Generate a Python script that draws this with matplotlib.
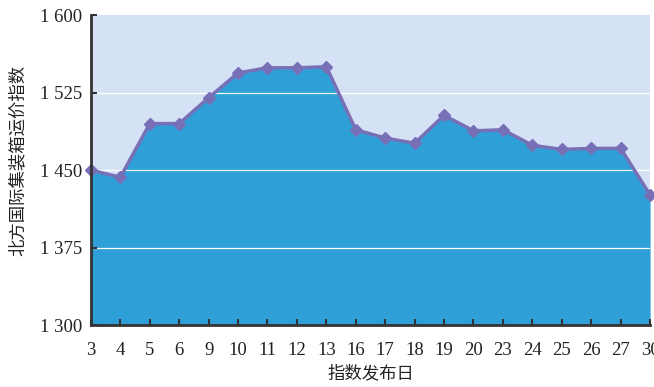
import matplotlib
matplotlib.use("Agg")
import matplotlib.pyplot as plt
import numpy as np

days = ["3", "4", "5", "6", "9", "10", "11", "12", "13", "16", "17", "18", "19", "20", "23", "24", "25", "26", "27", "30"]
values = [1450, 1443, 1495, 1495, 1520, 1544, 1549, 1549, 1550, 1489, 1481, 1476, 1503, 1488, 1489, 1474, 1470, 1471, 1471, 1426]
yticks = [1300, 1375, 1450, 1525, 1600]
ytick_labels = ["1 300", "1 375", "1 450", "1 525", "1 600"]

fig = plt.figure(figsize=(6.54, 3.87), dpi=100)
ax = fig.add_axes([0.139, 0.160, 0.855, 0.801])

x = np.arange(len(days))
ax.set_facecolor("#D5E2F5")
ax.fill_between(x, 1300, values, color="#2F9FD7", zorder=1, linewidth=0)
for yv in [1375, 1450, 1525]:
    ax.axhline(yv, color="white", linewidth=0.9, zorder=1.5)
ax.plot(x, values, color="#7770B6", linewidth=2.5, marker="D", markersize=6,
        markerfacecolor="#7770B6", markeredgecolor="#7770B6", zorder=3, clip_on=False)

ax.set_xlim(0, len(days) - 1)
ax.set_ylim(1300, 1600)
ax.set_xticks(x)
ax.set_xticklabels(days, fontfamily="Liberation Serif", fontsize=13.5, color="#222222")
ax.set_yticks(yticks)
ax.set_yticklabels(ytick_labels, fontfamily="Liberation Serif", fontsize=13.5, color="#222222")
ax.tick_params(axis="both", direction="in", length=4, width=1.5, color="#333333", pad=6)
ax.tick_params(axis="x", pad=12)

for s in ["top", "right"]:
    ax.spines[s].set_visible(False)
for s in ["left", "bottom"]:
    ax.spines[s].set_linewidth(2)
    ax.spines[s].set_color("#333333")
    ax.spines[s].set_zorder(4)

ax.set_xlabel("指数发布日", fontfamily="Noto Sans CJK SC", fontsize=12.5, labelpad=4, color="#222222")
ax.set_ylabel("北方国际集装箱运价指数", fontfamily="Noto Sans CJK SC", fontsize=12.5, labelpad=8, color="#222222")
ax.yaxis.set_label_coords(-0.115, 0.53)

fig.savefig("out.png", dpi=100)
